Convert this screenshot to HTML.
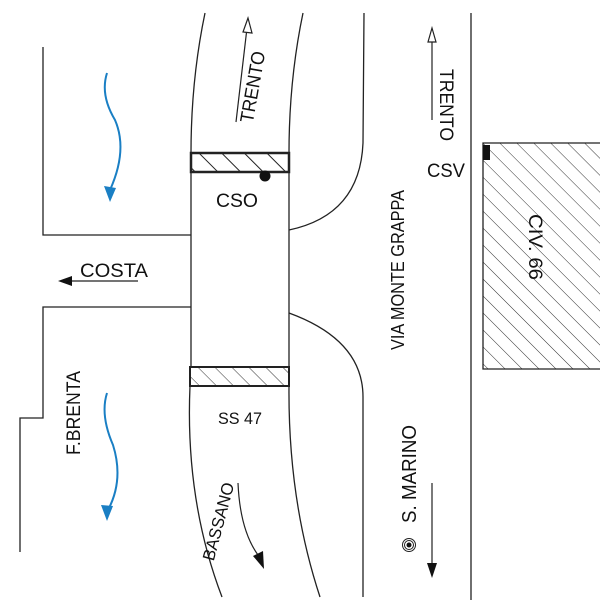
<!DOCTYPE html>
<html><head><meta charset="utf-8"><style>html,body{margin:0;padding:0;background:#fff}</style></head>
<body>
<svg width="600" height="600" viewBox="0 0 600 600" xmlns="http://www.w3.org/2000/svg" font-family="Liberation Sans, sans-serif" font-size="19">
<defs>
<pattern id="h1" patternUnits="userSpaceOnUse" width="16" height="16" patternTransform="rotate(-45)">
<line x1="0" y1="0" x2="0" y2="16" stroke="#222" stroke-width="2"/>
</pattern>
<pattern id="h2" patternUnits="userSpaceOnUse" width="12" height="12" patternTransform="rotate(-45)">
<line x1="0" y1="0" x2="0" y2="12" stroke="#333" stroke-width="1"/>
</pattern>
<clipPath id="bc"><rect x="483" y="143" width="117" height="226"/></clipPath>
</defs>
<g fill="none" stroke="#222" stroke-width="1.3">
<polyline points="43,47 43,235 191,235"/>
<polyline points="191,307 43,307 43,418 20,418 20,552"/>
<path d="M205,13 Q191,80 191,153"/>
<path d="M303,13 Q289,80 289,153"/>
<path d="M364,13 L363,143 Q360,215 289,230"/>
<line x1="191" y1="172" x2="191" y2="367"/>
<line x1="289" y1="172" x2="289" y2="367"/>
<path d="M289,313 Q363,340 363,397 L363,597"/>
<path d="M190,386 Q185,500 222,597"/>
<path d="M289,386 Q288,500 320,597"/>
<line x1="471" y1="13" x2="471" y2="600"/>
</g>
<rect x="191" y="153" width="98" height="19" fill="url(#h1)" stroke="#222" stroke-width="2.5"/>
<rect x="190" y="367" width="99" height="19" fill="url(#h2)" stroke="#222" stroke-width="2"/>
<circle cx="265" cy="176" r="5.5" fill="#111"/>
<rect x="483" y="143" width="130" height="226" fill="url(#h2)" clip-path="url(#bc)"/>
<polyline points="600,143 483,143 483,369 600,369" fill="none" stroke="#222" stroke-width="1.3"/>
<rect x="483" y="145" width="7" height="15" fill="#111"/>
<g stroke="#222" stroke-width="1.2" fill="none">
<line x1="236" y1="122" x2="247" y2="28"/>
<line x1="432" y1="120" x2="432" y2="40"/>
<line x1="138" y1="281" x2="70" y2="281"/>
<line x1="432" y1="483" x2="432" y2="566"/>
<path d="M238,483 Q240,530 258,555"/>
</g>
<polygon points="248,18 243,32 252,33" fill="#fff" stroke="#222" stroke-width="1.2"/>
<polygon points="432,28 428,42 436,42" fill="#fff" stroke="#222" stroke-width="1.2"/>
<polygon points="58,281 72,276 72,286" fill="#111"/>
<polygon points="432,578 427,563 437,563" fill="#111"/>
<polygon points="264,569 253,556 263,551" fill="#111"/>
<g stroke="#1a7fc4" stroke-width="2" fill="none">
<path d="M107,73 Q100,95 115,120 Q128,150 110,190"/>
<path d="M107,393 Q100,415 113,445 Q124,480 108,510"/>
</g>
<polygon points="110,202 104,186 116,188" fill="#1a7fc4"/>
<polygon points="107,521 101,505 113,506" fill="#1a7fc4"/>
<g fill="#111">
<text x="237" y="207" text-anchor="middle" textLength="42" lengthAdjust="spacingAndGlyphs">CSO</text>
<text x="240" y="424" text-anchor="middle" font-size="17" textLength="44" lengthAdjust="spacingAndGlyphs">SS 47</text>
<text x="446" y="177" text-anchor="middle" textLength="38" lengthAdjust="spacingAndGlyphs">CSV</text>
<text x="114" y="277" text-anchor="middle" textLength="68" lengthAdjust="spacingAndGlyphs">COSTA</text>
<text transform="translate(259,88) rotate(-80)" text-anchor="middle" textLength="72" lengthAdjust="spacingAndGlyphs">TRENTO</text>
<text transform="translate(440,105) rotate(90)" text-anchor="middle" textLength="72" lengthAdjust="spacingAndGlyphs">TRENTO</text>
<text transform="translate(404,270) rotate(-90)" text-anchor="middle" font-size="18" textLength="160" lengthAdjust="spacingAndGlyphs">VIA MONTE GRAPPA</text>
<text transform="translate(529,247) rotate(90)" text-anchor="middle" textLength="66" lengthAdjust="spacingAndGlyphs">CIV. 66</text>
<text transform="translate(416,474) rotate(-90)" text-anchor="middle" font-size="20" textLength="98" lengthAdjust="spacingAndGlyphs">S. MARINO</text>
<text transform="translate(80,413) rotate(-90)" text-anchor="middle" textLength="84" lengthAdjust="spacingAndGlyphs">F.BRENTA</text>
<text transform="translate(224,523) rotate(-75)" text-anchor="middle" font-size="17" textLength="80" lengthAdjust="spacingAndGlyphs">BASSANO</text>
</g>
<circle cx="409" cy="545" r="6.5" fill="none" stroke="#222" stroke-width="1"/>
<circle cx="409" cy="545" r="4.5" fill="none" stroke="#222" stroke-width="1"/>
<circle cx="409" cy="545" r="2.5" fill="#111"/>
</svg>
</body></html>
